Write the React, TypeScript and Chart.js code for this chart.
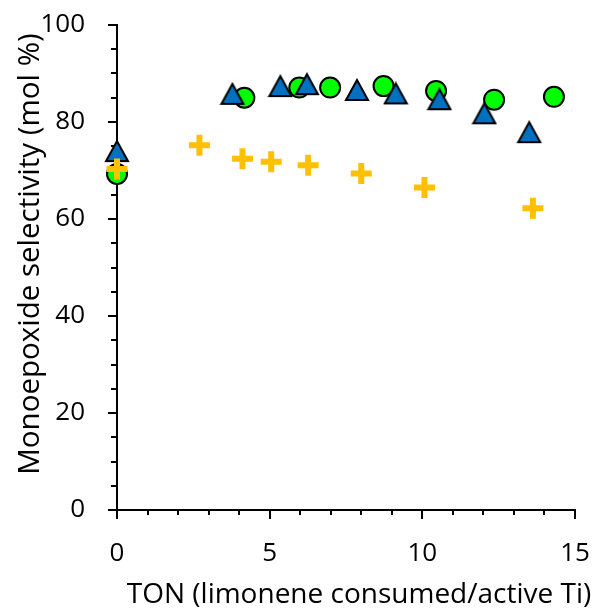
import React, { useEffect, useRef } from "react";
import { Chart, registerables } from "chart.js";

Chart.register(...registerables);

// Series data (TON vs monoepoxide selectivity)
const tonCircle = [0, 4.17, 5.97, 6.98, 8.73, 10.45, 12.35, 14.31];
const selCircle = [69.3, 85.0, 87.1, 87.1, 87.4, 86.4, 84.6, 85.2];

const tonTriangle = [0, 3.78, 5.35, 6.22, 7.86, 9.13, 10.56, 12.03, 13.5];
const selTriangle = [74.0, 85.8, 87.4, 87.8, 86.6, 85.9, 84.7, 81.8, 77.9];

const tonCross = [0, 2.7, 4.11, 5.05, 6.26, 8.0, 10.07, 13.62];
const selCross = [70.3, 75.2, 72.4, 71.8, 71.1, 69.4, 66.5, 62.2];

const xTitle = "TON (limonene consumed/active Ti)";
const yTitle = "Monoepoxide selectivity (mol %)";

const FONT = "'Open Sans', 'Noto Sans', sans-serif";

function makeTriangle(): HTMLCanvasElement {
  const w = 26;
  const h = 24;
  const c = document.createElement("canvas");
  c.width = w;
  c.height = h;
  const ctx = c.getContext("2d")!;
  ctx.beginPath();
  ctx.moveTo(w / 2, 2);
  ctx.lineTo(w - 2, h - 2);
  ctx.lineTo(2, h - 2);
  ctx.closePath();
  ctx.fillStyle = "#0070C0";
  ctx.fill();
  ctx.lineWidth = 2;
  ctx.lineJoin = "miter";
  ctx.strokeStyle = "#000000";
  ctx.stroke();
  return c;
}

const axisTicks = {
  id: "axisTicks",
  beforeDatasetsDraw(chart: any) {
    const ctx = chart.ctx;
    const xs = chart.scales.x;
    const ys = chart.scales.y;
    ctx.save();
    ctx.strokeStyle = "#000000";
    ctx.lineWidth = 2;
    ctx.beginPath();
    for (let v = 0; v <= 15; v++) {
      const px = Math.round(xs.getPixelForValue(v));
      const len = v % 5 === 0 ? 9 : 5;
      ctx.moveTo(px, ys.bottom);
      ctx.lineTo(px, ys.bottom + len);
    }
    for (let v = 0; v <= 100; v += 5) {
      const py = Math.round(ys.getPixelForValue(v));
      const len = v % 20 === 0 ? 9 : 6;
      ctx.moveTo(xs.left, py);
      ctx.lineTo(xs.left - len, py);
    }
    ctx.stroke();
    ctx.restore();
  },
};

const axisTitles = {
  id: "axisTitles",
  afterDraw(chart: any) {
    const ctx = chart.ctx;
    const xs = chart.scales.x;
    const ys = chart.scales.y;
    ctx.save();
    ctx.fillStyle = "#000000";
    ctx.textAlign = "center";
    ctx.textBaseline = "alphabetic";
    // x title
    ctx.font = `28px ${FONT}`;
    ctx.fillText(xTitle, (xs.left + xs.right) / 2 + 13, chart.height - 9);
    // y title
    ctx.font = `29.5px ${FONT}`;
    ctx.translate(39, (ys.top + ys.bottom) / 2 - 13.5);
    ctx.rotate(-Math.PI / 2);
    ctx.fillText(yTitle, 0, 0);
    ctx.restore();
  },
};

export default function App() {
  const ref = useRef<HTMLCanvasElement | null>(null);

  useEffect(() => {
    if (!ref.current) return;
    const tri = makeTriangle();
    const chart = new Chart(ref.current, {
      type: "scatter",
      data: {
        datasets: [
          {
            label: "cross",
            data: tonCross.map((x, i) => ({ x, y: selCross[i] })),
            pointStyle: "cross",
            pointRadius: 10.5,
            pointBorderWidth: 6,
            borderColor: "#FFC000",
            backgroundColor: "#FFC000",
            clip: false,
          },
          {
            label: "triangle",
            data: tonTriangle.map((x, i) => ({ x, y: selTriangle[i] })),
            pointStyle: tri as any,
            pointRadius: 12,
            borderColor: "#000000",
            backgroundColor: "#0070C0",
            clip: false,
          },
          {
            label: "circle",
            data: tonCircle.map((x, i) => ({ x, y: selCircle[i] })),
            pointStyle: "circle",
            pointRadius: 10,
            pointBorderWidth: 2,
            borderColor: "#000000",
            backgroundColor: "#00FF00",
            clip: false,
          },
        ],
      },
      options: {
        responsive: false,
        animation: false,
        layout: { padding: { top: 25, right: 19, left: 0, bottom: 0 } },
        plugins: {
          legend: { display: false },
          tooltip: { enabled: false },
        },
        scales: {
          x: {
            type: "linear",
            min: 0,
            max: 15,
            afterFit: (s: any) => {
              s.height = 102;
            },
            ticks: {
              stepSize: 5,
              color: "#000000",
              font: { family: FONT, size: 26 },
              padding: 0,
              maxRotation: 0,
            },
            grid: {
              display: true,
              drawOnChartArea: false,
              drawTicks: true,
              tickLength: 28,
              tickColor: "rgba(0,0,0,0)",
            },
            border: { display: true, color: "#000000", width: 2 },
            title: { display: false, text: xTitle },
          },
          y: {
            type: "linear",
            min: 0,
            max: 100,
            afterFit: (s: any) => {
              s.width = 117;
            },
            ticks: {
              stepSize: 20,
              color: "#000000",
              font: { family: FONT, size: 26 },
              padding: 0,
            },
            grid: {
              display: true,
              drawOnChartArea: false,
              drawTicks: true,
              tickLength: 32,
              tickColor: "rgba(0,0,0,0)",
            },
            border: { display: true, color: "#000000", width: 2 },
            title: { display: false, text: yTitle },
          },
        },
      },
      plugins: [axisTicks, axisTitles],
    });
    return () => chart.destroy();
  }, []);

  return (
    <div style={{ position: "absolute", left: 0, top: 0, width: 594, height: 612, background: "#ffffff" }}>
      <canvas ref={ref} width={594} height={612} style={{ display: "block" }} />
    </div>
  );
}
